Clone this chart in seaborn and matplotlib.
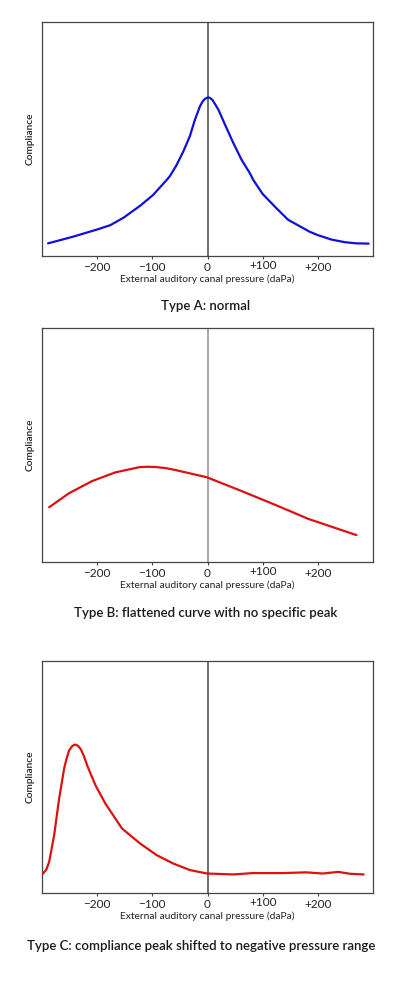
import numpy as np
import pandas as pd
import matplotlib
matplotlib.use("Agg")
import matplotlib.pyplot as plt
import matplotlib.transforms as mtrans
import seaborn as sns

# ---- data ----
a_x = [-289, -243, -199, -176, -152, -122, -99, -74, -68, -56, -44, -32, -23, -14, -9, -5, 1,
       4, 9, 14, 20, 32, 47, 62, 77, 83, 100, 125, 146, 185, 199, 225, 249, 270, 292]
a_y = [5.4, 8.3, 11.4, 13.2, 16.4, 21.5, 26.0, 32.5, 34.2, 38.9, 44.6, 51.2, 58.1, 63.8, 66.0, 67.1, 67.8,
       67.6, 66.7, 64.8, 62.4, 56.0, 48.2, 41.0, 35.3, 32.5, 26.5, 20.4, 15.5, 10.4, 9.0, 7.0, 5.9, 5.4, 5.3]

b_x = [-287, -251, -209, -167, -124, -110, -94, -75, -58, -1, 62, 123, 183, 270]
b_y = [23.4, 29.4, 34.6, 38.3, 40.5, 40.7, 40.6, 40.1, 39.3, 36.2, 30.3, 24.4, 18.4, 11.5]

c_x = [-298, -292, -287, -278, -269, -260, -256, -251, -245, -240, -235, -230, -224, -218, -203, -185,
       -155, -122, -92, -62, -32, -1, 47, 83, 137, 179, 209, 237, 258, 283]
c_y = [8.4, 10.2, 13.4, 24.9, 40.6, 53.5, 57.5, 61.4, 63.4, 64.0, 63.5, 62.1, 59.0, 54.9, 46.4, 38.5,
       27.8, 21.3, 16.3, 12.7, 9.9, 8.4, 8.0, 8.6, 8.6, 8.9, 8.4, 9.1, 8.3, 8.0]

tick_vals = [-200, -100, 0, 100, 200]
tick_labels = ["\u2212200", "\u2212100", "0", "+100", "+200"]

titles = ["Type A: normal",
          "Type B: flattened curve with no specific peak",
          "Type C: compliance peak shifted to negative pressure range"]
xlabel = "External auditory canal pressure (daPa)"
ylabel = "Compliance"

# ---- style ----
sns.set_style("ticks")
plt.rcParams["font.family"] = ["Lato", "DejaVu Sans"]
plt.rcParams["lines.solid_joinstyle"] = "round"
plt.rcParams["lines.solid_capstyle"] = "round"

W, H = 400, 999
fig = plt.figure(figsize=(W / 100, H / 100), dpi=100)

def px_axes(left, top, right, bottom):
    return fig.add_axes([left / W, 1 - bottom / H, (right - left) / W, (bottom - top) / H])

panels = [
    (a_x, a_y, "#1010d8", (42, 22, 373, 256), "#555555", 306, 206),
    (b_x, b_y, "#dd1111", (42, 328, 373, 562), "#999999", 613, 206),
    (c_x, c_y, "#dd1111", (42, 661, 373, 893), "#555555", 946, 201),
]

for (xs, ys, col, box, zcol, ty, tx), title in zip(panels, titles):
    ax = px_axes(*box)
    df = pd.DataFrame({"p": xs, "c": ys})
    ax.axvline(0, color=zcol, lw=1.2, zorder=1)
    sns.lineplot(data=df, x="p", y="c", ax=ax, color=col, lw=1.6, sort=False,
                 estimator=None, zorder=3)
    ax.set_xlim(-300, 300)
    ax.set_ylim(0, 100)
    ax.set_yticks([])
    ax.set_xticks(tick_vals)
    ax.set_xticklabels(tick_labels, fontsize=8.5)
    ax.tick_params(axis="x", length=2, width=0.8, pad=2, color="#444444", labelcolor="#222222")
    for s in ax.spines.values():
        s.set_color("#444444")
        s.set_linewidth(0.9)
    ax.set_xlabel(xlabel, fontsize=7.4, labelpad=1.5, color="#222222")
    ax.set_ylabel(ylabel, fontsize=7.3, labelpad=5, color="#222222", fontweight="semibold")
    # the "+100" label sits slightly higher in the original
    lab = ax.get_xticklabels()[3]
    lab.set_transform(lab.get_transform() + mtrans.ScaledTranslation(0, 2 / 100, fig.dpi_scale_trans))
    fig.text(tx / W, 1 - ty / H, title, ha="center", va="center", fontsize=9.5,
             fontweight="semibold", color="#1a1a1a")

fig.savefig("out.png", dpi=100)
